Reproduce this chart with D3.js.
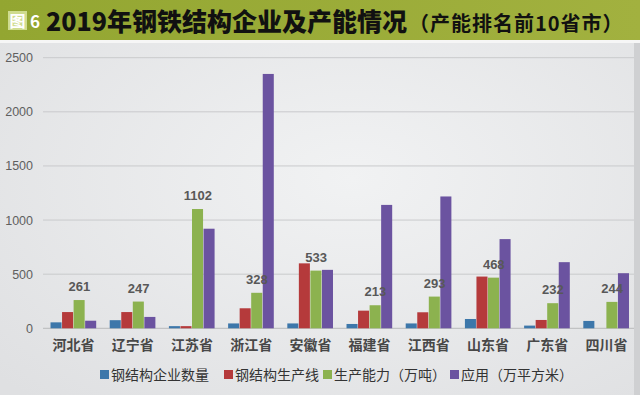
<!DOCTYPE html>
<html><head><meta charset="utf-8">
<script src="https://cdn.jsdelivr.net/npm/d3@7"></script>
<style>
html,body{margin:0;padding:0;background:#fff;}
svg{display:block;font-family:"Noto Sans CJK SC","Noto Sans",sans-serif;}
</style></head>
<body>
<svg id="chart" width="640" height="395"></svg>
<script>
const categories = ["河北省","辽宁省","江苏省","浙江省","安徽省","福建省","江西省","山东省","广东省","四川省"];
const seriesNames = ["钢结构企业数量","钢结构生产线","生产能力（万吨）","应用（万平方米）"];
const enterprises = [55, 75, 20, 45, 45, 40, 45, 86, 25, 68];
const lines = [150, 150, 20, 185, 600, 163, 148, 478, 77, 0];
const capacity = [261, 247, 1102, 328, 533, 213, 293, 468, 232, 244];
const application = [70, 105, 920, 2350, 540, 1140, 1218, 824, 611, 509];
const yTicks = [0, 500, 1000, 1500, 2000, 2500];
const colors = ["#3d77aa", "#b53a3b", "#8cb24f", "#6b53a0"];

const series = [enterprises, lines, capacity, application];
const svg = d3.select("#chart");
const defs = svg.append("defs");
const tg = defs.append("linearGradient").attr("id","tg").attr("x1","0").attr("x2","1");
tg.append("stop").attr("offset","0").attr("stop-color","#93a631");
tg.append("stop").attr("offset","1").attr("stop-color","#a2b13f");
const bg = defs.append("radialGradient").attr("id","bg").attr("cx","0.55").attr("cy","0.45").attr("r","0.75");
bg.append("stop").attr("offset","0").attr("stop-color","#f1f2f3");
bg.append("stop").attr("offset","1").attr("stop-color","#dfe0e2");

svg.append("rect").attr("x",0).attr("y",0).attr("width",640).attr("height",395).attr("fill","url(#bg)");
svg.append("rect").attr("x",0).attr("y",40).attr("width",640).attr("height",3).attr("fill","#f6f6f6");
svg.append("rect").attr("x",634).attr("y",43).attr("width",6).attr("height",352).attr("fill","#cfd0d2");
svg.append("rect").attr("x",0).attr("y",0).attr("width",640).attr("height",40).attr("fill","url(#tg)");

// title
svg.append("rect").attr("x",8).attr("y",11).attr("width",19).attr("height",19).attr("fill","#cfdc8f");
svg.append("text").attr("x",17.5).attr("y",27).attr("text-anchor","middle").attr("fill","#ffffff")
  .attr("font-size",16).attr("font-weight","bold").text("图");
svg.append("text").attr("x",30).attr("y",28).attr("fill","#ffffff")
  .attr("font-size",17).attr("font-weight","bold").text("6");
const t = svg.append("text").attr("x",46).attr("y",31).attr("fill","#111").attr("font-weight","900");
t.append("tspan").attr("font-size",25).text("2019年钢铁结构企业及产能情况");
t.append("tspan").attr("font-size",20).attr("dx",2).attr("font-weight","bold")
  .attr("letter-spacing",1).text("（产能排名前10省市）");

const x0 = d3.scaleBand().domain(categories).range([44, 636]).paddingInner(0.22).paddingOuter(0.11);
const x1 = d3.scaleBand().domain(d3.range(4)).range([0, x0.bandwidth()]);
const y = d3.scaleLinear().domain([0, 2500]).range([328.3, 57.7]);

// grid
svg.append("g").selectAll("line").data(yTicks).join("line")
  .attr("x1",43).attr("x2",634).attr("y1",d=>y(d)).attr("y2",d=>y(d))
  .attr("stroke",d=>d===0?"#b8b9bb":"#c9cacc").attr("stroke-width",1);
const ya = svg.append("g").attr("transform","translate(43,0)")
  .call(d3.axisLeft(y).tickValues(yTicks).tickFormat(d3.format("d")).tickSize(0).tickPadding(10));
ya.select(".domain").remove();
ya.selectAll("text").attr("font-size",12.5).attr("fill","#5f5f5f").attr("font-family","Liberation Sans, Arial, sans-serif");

// bars
const g = svg.append("g").selectAll("g").data(categories).join("g")
  .attr("transform",d=>`translate(${x0(d)},0)`);
g.selectAll("rect").data((d,i)=>series.map((s,k)=>({k, v:s[i]}))).join("rect")
  .attr("x",d=>x1(d.k)).attr("width",x1.bandwidth()-0.5)
  .attr("y",d=>y(d.v)).attr("height",d=>y(0)-y(d.v))
  .attr("fill",d=>colors[d.k]);

// labels on capacity
svg.append("g").selectAll("text").data(categories).join("text")
  .attr("x",(d)=>x0(d)+x1(2)+x1.bandwidth()/2)
  .attr("y",(d,i)=>y(capacity[i])-9)
  .attr("text-anchor","middle").attr("font-size",13).attr("font-weight","bold")
  .attr("fill","#585858").attr("font-family","Liberation Sans, Arial, sans-serif")
  .text((d,i)=>capacity[i]);

// x axis labels
const xa = svg.append("g").attr("transform","translate(0,328)")
  .call(d3.axisBottom(x0).tickSize(0).tickPadding(12));
xa.select(".domain").remove();
xa.selectAll("text").attr("font-size",14).attr("fill","#484848").attr("font-weight","bold")
  .attr("font-family","Noto Sans CJK SC");

// legend
const legend = svg.append("g").attr("transform","translate(100,375)");
const gaps = [15, 4, 4, 0];
let lx = 0;
seriesNames.forEach((n,k)=>{
  const it = legend.append("g").attr("transform",`translate(${lx},0)`);
  it.append("rect").attr("x",0).attr("y",-5).attr("width",9).attr("height",9).attr("fill",colors[k]);
  const tx = it.append("text").attr("x",11).attr("y",5).attr("font-size",14).attr("fill","#333").text(n);
  lx += 11 + tx.node().getComputedTextLength() + gaps[k];
});
</script>
</body></html>
